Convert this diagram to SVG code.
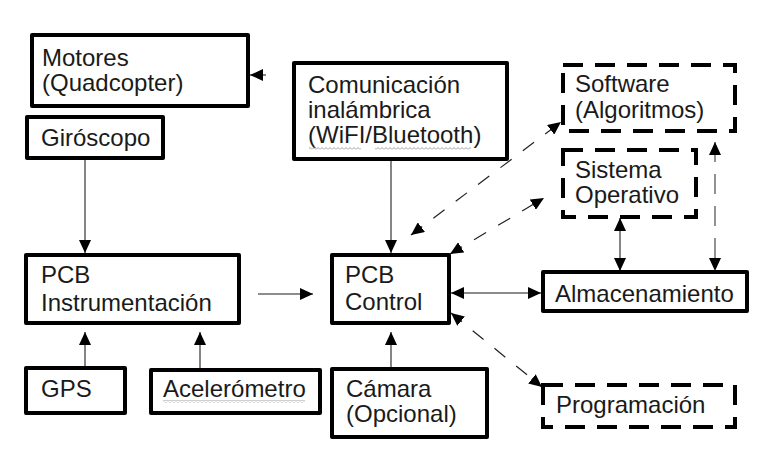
<svg xmlns="http://www.w3.org/2000/svg" width="767" height="458" viewBox="0 0 767 458">
<style>
.box{fill:#fff;stroke:#000;stroke-width:4;stroke-linejoin:round}
.dbox{fill:#fff;stroke:#000;stroke-width:4;stroke-dasharray:20 12}
.t{font-family:"Liberation Sans",Arial,sans-serif;font-size:24px;fill:#1a1a1a}
.sl{stroke:#666;stroke-width:1.6;fill:none}
.dl{stroke:#222;stroke-width:1.2;fill:none;stroke-dasharray:14 14}
.gdl{stroke:#777;stroke-width:1.6;fill:none;stroke-dasharray:20 12}
</style>
<defs>
<marker id="ah" markerUnits="userSpaceOnUse" markerWidth="14" markerHeight="12" refX="13" refY="6" orient="auto-start-reverse" viewBox="0 0 14 12">
<path d="M0,0 L13,6 L0,12 z" fill="#000"/>
</marker>
<pattern id="wave" patternUnits="userSpaceOnUse" width="4" height="3">
<path d="M0,2.5 L2,0.5 L4,2.5" stroke="#888" stroke-width="0.8" fill="none"/>
</pattern>
</defs>
<rect width="767" height="458" fill="#fff"/>
<g id="connectors">
<line class="sl" x1="266" y1="75" x2="250" y2="75" marker-end="url(#ah)"/>
<line class="sl" x1="85" y1="158" x2="85" y2="253" marker-end="url(#ah)"/>
<line class="sl" x1="258" y1="294" x2="313" y2="294" marker-end="url(#ah)"/>
<line class="sl" x1="391" y1="159" x2="391" y2="253" marker-end="url(#ah)"/>
<line class="sl" x1="451" y1="293" x2="541" y2="293" marker-start="url(#ah)" marker-end="url(#ah)"/>
<line class="sl" x1="85" y1="366" x2="85" y2="332" marker-end="url(#ah)"/>
<line class="sl" x1="200" y1="368" x2="200" y2="332" marker-end="url(#ah)"/>
<line class="sl" x1="391" y1="367" x2="391" y2="332" marker-end="url(#ah)"/>
<line class="dl" x1="411" y1="235" x2="561" y2="122" marker-start="url(#ah)" marker-end="url(#ah)"/>
<line class="dl" x1="450" y1="254" x2="544" y2="198" marker-start="url(#ah)" marker-end="url(#ah)"/>
<line class="dl" x1="451" y1="313" x2="542" y2="387" marker-start="url(#ah)" marker-end="url(#ah)"/>
<line class="sl" x1="620" y1="218" x2="620" y2="271" marker-start="url(#ah)" marker-end="url(#ah)"/>
<line class="gdl" x1="715" y1="142" x2="715" y2="271" marker-start="url(#ah)" marker-end="url(#ah)"/>
</g>
<g id="motores">
<rect class="box" x="32" y="35" width="216" height="71"/>
<text class="t" x="42" y="66">Motores</text>
<text class="t" x="42" y="91">(Quadcopter)</text>
</g>
<g id="giroscopo">
<rect class="box" x="27" y="117" width="136" height="41"/>
<text class="t" x="41" y="146">Giróscopo</text>
</g>
<g id="comunicacion">
<rect class="box" x="294" y="63" width="213" height="96"/>
<text class="t" x="308" y="93">Comunicación</text>
<text class="t" x="308" y="118">inalámbrica</text>
<text class="t" x="308" y="143">(WiFI/Bluetooth)</text>
<rect x="309" y="147" width="52" height="3" fill="url(#wave)"/>
<rect x="375" y="147" width="96" height="3" fill="url(#wave)"/>
</g>
<g id="software">
<rect class="dbox" x="563" y="65" width="172" height="66"/>
<text class="t" x="575" y="92">Software</text>
<text class="t" x="575" y="118">(Algoritmos)</text>
</g>
<g id="sistema">
<rect class="dbox" x="563" y="150" width="133" height="67"/>
<text class="t" x="575" y="178">Sistema</text>
<text class="t" x="575" y="203">Operativo</text>
</g>
<g id="pcb-instrumentacion">
<rect class="box" x="26" y="255" width="213" height="68"/>
<text class="t" x="41" y="283">PCB</text>
<text class="t" x="41" y="311">Instrumentación</text>
</g>
<g id="pcb-control">
<rect class="box" x="332" y="255" width="117" height="68"/>
<text class="t" x="345" y="283">PCB</text>
<text class="t" x="345" y="310">Control</text>
</g>
<g id="almacenamiento">
<rect class="box" x="543" y="272" width="204" height="39"/>
<text class="t" x="555" y="302">Almacenamiento</text>
</g>
<g id="gps">
<rect class="box" x="26" y="368" width="99" height="45"/>
<text class="t" x="41" y="397">GPS</text>
</g>
<g id="acelerometro">
<rect class="box" x="151" y="370" width="169" height="43"/>
<text class="t" x="163" y="397">Acelerómetro</text>
<rect x="163" y="400" width="142" height="3" fill="url(#wave)"/>
</g>
<g id="camara">
<rect class="box" x="332" y="369" width="155" height="68"/>
<text class="t" x="346" y="397">Cámara</text>
<text class="t" x="346" y="422">(Opcional)</text>
</g>
<g id="programacion">
<rect class="dbox" x="543" y="385" width="192" height="42"/>
<text class="t" x="556" y="413">Programación</text>
</g>
</svg>
